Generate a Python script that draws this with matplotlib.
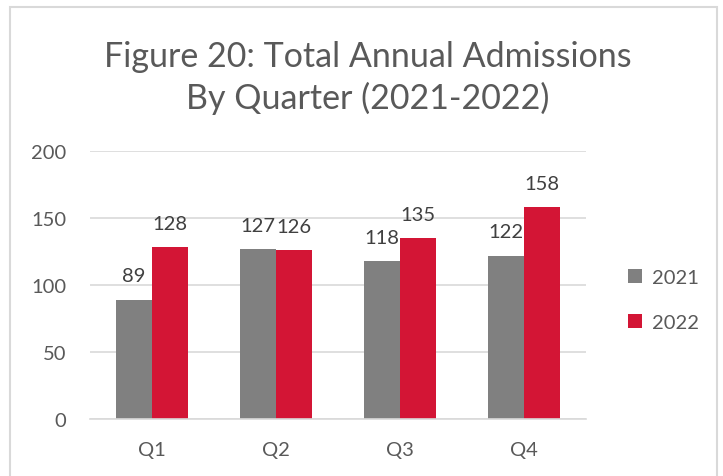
import matplotlib
matplotlib.use("Agg")
import matplotlib.pyplot as plt
from matplotlib.patches import Rectangle
import numpy as np

categories = ["Q1", "Q2", "Q3", "Q4"]
series_names = ["2021", "2022"]
values_2021 = [89, 127, 118, 122]
values_2022 = [128, 126, 135, 158]
title = "Figure 20: Total Annual Admissions\nBy Quarter (2021-2022)"

plt.rcParams['font.family'] = ['Lato', 'DejaVu Sans']
txt = "#595959"

fig = plt.figure(figsize=(7.23, 4.77), dpi=100)
fig.patch.set_facecolor("white")
fig.patches.append(Rectangle((10/723, -0.02), 707/723, 1.02 - 8/477, transform=fig.transFigure,
                             fill=False, edgecolor="#d9d9d9", linewidth=1.5))

ax = fig.add_axes([90/723, 57/477, 496/723, 268/477])
x = np.arange(len(categories))
w = 0.29
b1 = ax.bar(x - w/2, values_2021, w, color="#808080", label=series_names[0], zorder=2)
b2 = ax.bar(x + w/2, values_2022, w, color="#d31535", label=series_names[1], zorder=2)
for bars in (b1, b2):
    ax.bar_label(bars, padding=11, fontsize=14.5, color="#404040")

ax.set_xlim(-0.5, 3.5)
ax.set_ylim(0, 200)
ax.set_yticks([0, 50, 100, 150, 200])
ax.set_xticks(x)
ax.set_xticklabels(categories)
ax.yaxis.grid(True, color="#d9d9d9", linewidth=1.2, zorder=0)
ax.set_axisbelow(True)
for s in ["top", "right", "left"]:
    ax.spines[s].set_visible(False)
ax.spines["bottom"].set_color("#d9d9d9")
ax.spines["bottom"].set_linewidth(1.2)
ax.tick_params(axis="both", length=0, labelsize=14.5, colors=txt)
ax.tick_params(axis="x", pad=16)
ax.tick_params(axis="y", pad=17)

fig.text(368/723, 1 - 78/477, title, ha="center", va="center", fontsize=24.5,
         color=txt, linespacing=1.3)

fig.legend(handles=[b1, b2], labels=series_names, loc="center left",
           bbox_to_anchor=(610/723, 1 - 301/477), frameon=False, fontsize=14.5,
           labelcolor=txt, handlelength=0.7, handleheight=0.7, handletextpad=0.5,
           labelspacing=1.4)

fig.savefig("out.png", dpi=100)
